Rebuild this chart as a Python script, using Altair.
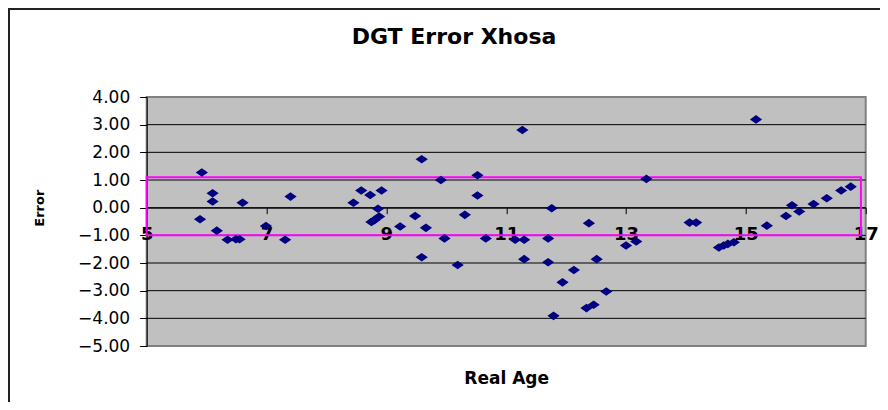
import altair as alt
import pandas as pd

# Data
real_age = [5.92, 6.10, 6.10, 6.60, 7.40, 5.89, 6.17, 6.35, 6.49, 6.55, 6.99, 7.31,
            8.45, 8.58, 8.73, 8.92, 8.86, 8.88, 8.80, 8.75,
            9.23, 9.48, 9.59, 9.66, 9.59, 9.91, 9.97, 10.19, 10.31, 10.52, 10.52, 10.66,
            11.27, 11.15, 11.30, 11.30, 11.76, 11.70, 11.70, 11.79, 11.94, 12.13,
            12.38, 12.51, 12.34, 12.46, 12.67, 13.00, 13.17, 13.34,
            15.17, 14.06, 14.17, 14.55, 14.63, 14.70, 14.80,
            15.35, 15.67, 15.77, 15.89, 16.13, 16.35, 16.59, 16.75]
error = [1.27, 0.52, 0.22, 0.18, 0.40, -0.42, -0.83, -1.16, -1.14, -1.14, -0.66, -1.16,
         0.18, 0.62, 0.46, 0.62, -0.04, -0.32, -0.45, -0.52,
         -0.68, -0.30, 1.75, -0.73, -1.79, 1.00, -1.11, -2.07, -0.26, 1.17, 0.44, -1.11,
         2.81, -1.16, -1.16, -1.86, -0.02, -1.11, -1.97, -3.91, -2.70, -2.25,
         -0.56, -1.86, -3.63, -3.51, -3.03, -1.37, -1.22, 1.04,
         3.19, -0.54, -0.54, -1.44, -1.37, -1.31, -1.25,
         -0.65, -0.30, 0.09, -0.14, 0.13, 0.34, 0.62, 0.76]

y_ticks = [-5, -4, -3, -2, -1, 0, 1, 2, 3, 4]
y_grid = [-4, -3, -2, -1, 0, 1, 2, 3]
x_ticks = [5, 7, 9, 11, 13, 15, 17]

box_x = [5.0]
box_x2 = [16.92]
box_y = [-1.0]
box_y2 = [1.1]

chart_title = "DGT Error Xhosa"

df = pd.DataFrame({"age": real_age, "err": error})
box = pd.DataFrame({"x": box_x, "x2": box_x2, "y": box_y, "y2": box_y2})
grid = pd.DataFrame({"g": y_grid})

W, H = 719, 249
PL, PT = 138.7, 89
PR = 872 - PL - W
PB = 394 - PT - H

xscale = alt.Scale(domain=[5, 17], nice=False, zero=False)
yscale = alt.Scale(domain=[-5, 4], nice=False, zero=False)

x_axis = alt.Axis(values=x_ticks, format="d", title="Real Age", orient="bottom",
                  offset=-(H * 5 / 9), grid=False,
                  domainColor="black", tickColor="black", tickSize=6,
                  labelFont="DejaVu Sans", labelFontSize=18, labelFontWeight="bold",
                  labelColor="black", labelPadding=12, labelFlush=False,
                  labelOverlap=False,
                  titleFont="DejaVu Sans", titleFontSize=17, titleFontWeight="bold",
                  titleColor="black", titlePadding=127)
y_axis = alt.Axis(values=y_ticks, format=".2f", title="Error", grid=False,
                  domainColor="black", tickColor="black", tickSize=7,
                  labelFont="DejaVu Sans", labelFontSize=17, labelColor="black",
                  labelPadding=10, labelFlush=False, labelOverlap=False,
                  titleFont="DejaVu Sans", titleFontSize=13, titleFontWeight="bold",
                  titleColor="black", titleX=-107, titleY=H * 4 / 9,
                  titleAlign="center", titleBaseline="middle")

# outer chart border
border = alt.Chart(alt.Data(values=[{"a": 1}])).mark_rect(
    fill=None, stroke="#222222", strokeWidth=2
).encode(
    x=alt.value(-PL + 1), x2=alt.value(W + 400),
    y=alt.value(-PT + 1), y2=alt.value(H + 400),
)

title_mark = alt.Chart(alt.Data(values=[{"a": 1}])).mark_text(
    text=chart_title, font="DejaVu Sans", fontSize=22, fontWeight="bold",
    color="black", align="center", baseline="middle",
).encode(
    x=alt.value(454 - 8 - PL), y=alt.value(37 - 8 - PT),
)

gridlines = alt.Chart(grid).mark_rule(color="black", strokeWidth=1).encode(
    y=alt.Y("g:Q", scale=yscale, axis=y_axis),
)

points = alt.Chart(df).mark_point(
    shape="M -1 0 L 0 -0.7 L 1 0 L 0 0.7 Z",
    filled=True, color="#000080", opacity=1, size=150,
).encode(
    x=alt.X("age:Q", scale=xscale, axis=x_axis),
    y=alt.Y("err:Q", scale=yscale, axis=y_axis),
)

rect = alt.Chart(box).mark_rect(fill=None, stroke="#FF00FF", strokeWidth=2).encode(
    x=alt.X("x:Q", scale=xscale, axis=x_axis), x2="x2:Q",
    y=alt.Y("y:Q", scale=yscale, axis=y_axis), y2="y2:Q",
)

chart = alt.layer(border, title_mark, gridlines, rect, points).properties(
    width=W, height=H,
    padding={"left": PL, "top": PT, "right": PR, "bottom": PB},
    autosize=alt.AutoSizeParams(type="none"),
    background="white",
).configure_view(
    fill="#C0C0C0", stroke="#808080", strokeWidth=2
)

chart.save("out.html", embed_options={"renderer": "svg", "actions": False})
